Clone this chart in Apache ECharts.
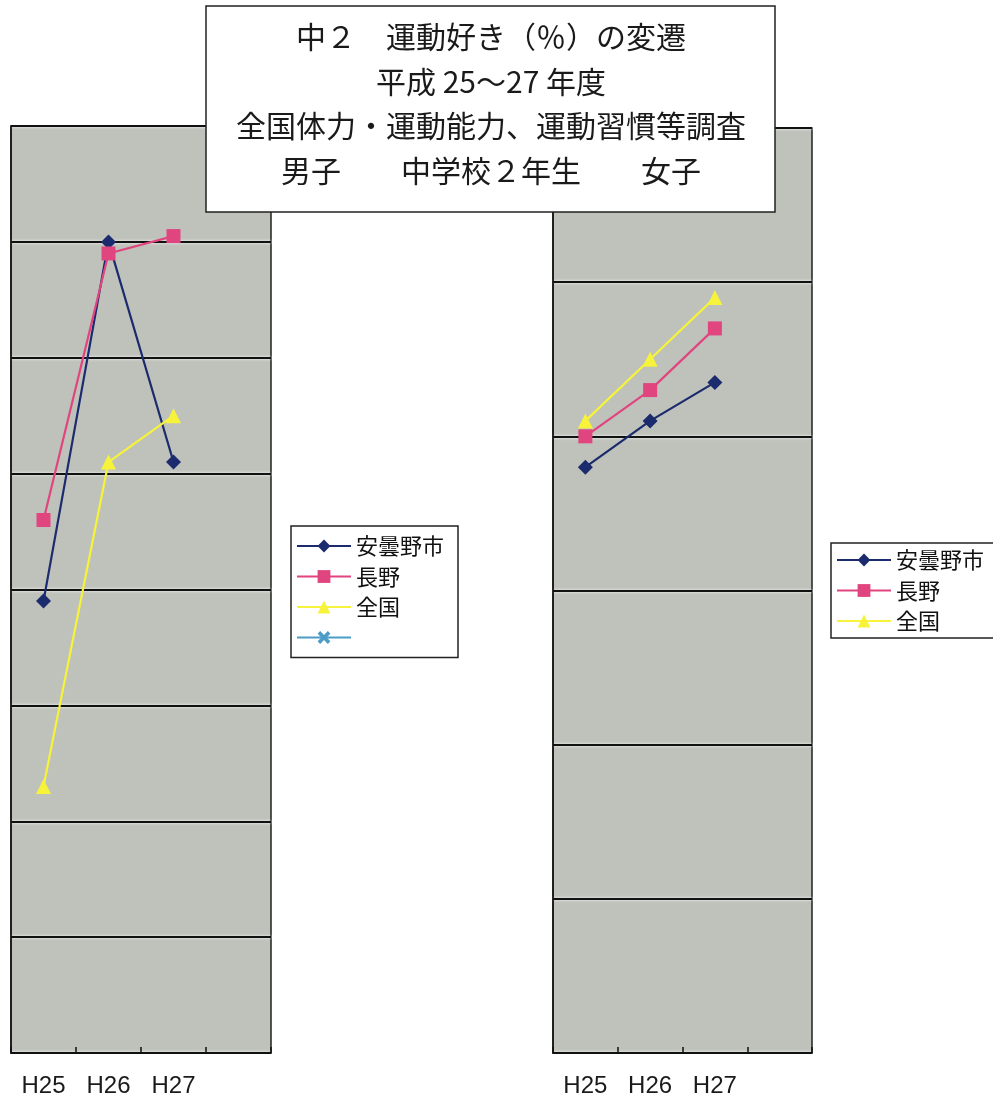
<!DOCTYPE html>
<html>
<head>
<meta charset="utf-8">
<title>中2 運動好き（%）の変遷</title>
<script src="https://cdn.jsdelivr.net/npm/echarts@6/dist/echarts.min.js"></script>
<style>
  html, body { margin: 0; padding: 0; background: #fff; }
  #chart { width: 993px; height: 1098px; }
</style>
</head>
<body>
<div id="chart"></div>
<script>
// 年度
var years = ['H25', 'H26', 'H27', '']

// 男子（左）
var boyAzumino = [59.9, 63.0, 61.1]
var boyNagano = [60.6, 62.9, 63.05]
var boyZenkoku = [58.3, 61.1, 61.5]

// 女子（右）
var girlAzumino = [45.6, 46.2, 46.7]
var girlNagano = [46.0, 46.6, 47.4]
var girlZenkoku = [46.2, 47.0, 47.8]

var seriesNames = ['安曇野市', '長野', '全国', '\u3000']

var titleLines = [
  '中２　運動好き（％）の変遷',
  '平成 25～27 年度',
  '全国体力・運動能力、運動習慣等調査',
  '男子　　中学校２年生　　女子'
]

var colors = {
  azumino: '#1c2a6e',
  nagano: '#e0457f',
  zenkoku: '#f6f33a',
  blank: '#4b9cc6'
}
var plotBg = '#bfc2bb'
var cjkFont = '"Noto Sans CJK JP", sans-serif'
var crossPath = 'path://M2,0L5,3L8,0L10,2L7,5L10,8L8,10L5,7L2,10L0,8L3,5L0,2Z'

var chart = echarts.init(document.getElementById('chart'))

function lineSeries (name, data, idx, color, symbol, size) {
  return {
    name: name,
    type: 'line',
    xAxisIndex: idx,
    yAxisIndex: idx,
    data: data,
    symbol: symbol,
    symbolSize: size,
    lineStyle: { color: color, width: 2.2 },
    itemStyle: { color: color },
    emphasis: { disabled: true },
    animation: false
  }
}

function xAxisOf (idx) {
  return {
    type: 'category',
    gridIndex: idx,
    data: years,
    boundaryGap: true,
    axisLine: { lineStyle: { color: '#111', width: 1.5 } },
    axisTick: { show: true, inside: true, length: 6, lineStyle: { color: '#111', width: 1.5 } },
    axisLabel: {
      color: '#1a1a1a',
      fontSize: 24,
      fontFamily: '"Liberation Sans", Arial, sans-serif',
      margin: 21
    }
  }
}

function yAxisOf (idx, min, max, interval) {
  return {
    type: 'value',
    gridIndex: idx,
    min: min,
    max: max,
    interval: interval,
    axisLine: { show: true, lineStyle: { color: '#111', width: 1.5 } },
    axisTick: { show: false },
    axisLabel: { show: false },
    splitLine: {
      lineStyle: { color: '#111', width: 2.2, shadowColor: '#ffffff', shadowBlur: 3 }
    }
  }
}

var titleTexts = titleLines.map(function (t, i) {
  return {
    type: 'text',
    z: 101,
    style: {
      text: t,
      x: 491,
      y: 37 + i * 44.5,
      textAlign: 'center',
      textVerticalAlign: 'middle',
      fontSize: 30,
      fontFamily: cjkFont,
      fill: '#1a1a1a'
    }
  }
})

var legendText = { fontSize: 22, fontFamily: cjkFont, color: '#111' }

chart.setOption({
  backgroundColor: '#ffffff',
  grid: [
    { left: 11, top: 126, width: 260, height: 928, show: true, backgroundColor: plotBg, borderColor: '#222', borderWidth: 1.5 },
    { left: 553, top: 128, width: 259, height: 927, show: true, backgroundColor: plotBg, borderColor: '#222', borderWidth: 1.5 }
  ],
  xAxis: [xAxisOf(0), xAxisOf(1)],
  yAxis: [yAxisOf(0, 56, 64, 1), yAxisOf(1, 38, 50, 2)],
  legend: [
    {
      data: seriesNames,
      orient: 'vertical',
      left: 291,
      top: 526,
      padding: [9, 14, 9, 5],
      itemGap: 8.5,
      itemWidth: 54,
      itemHeight: 16,
      backgroundColor: '#fff',
      borderColor: '#222',
      borderWidth: 1.5,
      borderRadius: 0,
      textStyle: legendText,
      selectedMode: false
    },
    {
      data: seriesNames.slice(0, 3),
      orient: 'vertical',
      left: 831,
      top: 543,
      padding: [6, 30, 6, 5],
      itemGap: 8.5,
      itemWidth: 54,
      itemHeight: 16,
      backgroundColor: '#fff',
      borderColor: '#222',
      borderWidth: 1.5,
      borderRadius: 0,
      textStyle: legendText,
      selectedMode: false
    }
  ],
  series: [
    lineSeries(seriesNames[0], boyAzumino, 0, colors.azumino, 'diamond', 15),
    lineSeries(seriesNames[1], boyNagano, 0, colors.nagano, 'rect', 14),
    lineSeries(seriesNames[2], boyZenkoku, 0, colors.zenkoku, 'triangle', 15),
    lineSeries(seriesNames[3], [], 0, colors.blank, crossPath, 14),
    lineSeries(seriesNames[0], girlAzumino, 1, colors.azumino, 'diamond', 15),
    lineSeries(seriesNames[1], girlNagano, 1, colors.nagano, 'rect', 14),
    lineSeries(seriesNames[2], girlZenkoku, 1, colors.zenkoku, 'triangle', 15)
  ],
  graphic: [
    {
      type: 'rect',
      z: 100,
      shape: { x: 206, y: 6, width: 569, height: 206 },
      style: { fill: '#fff', stroke: '#222', lineWidth: 1.5 }
    }
  ].concat(titleTexts)
})
</script>
</body>
</html>
